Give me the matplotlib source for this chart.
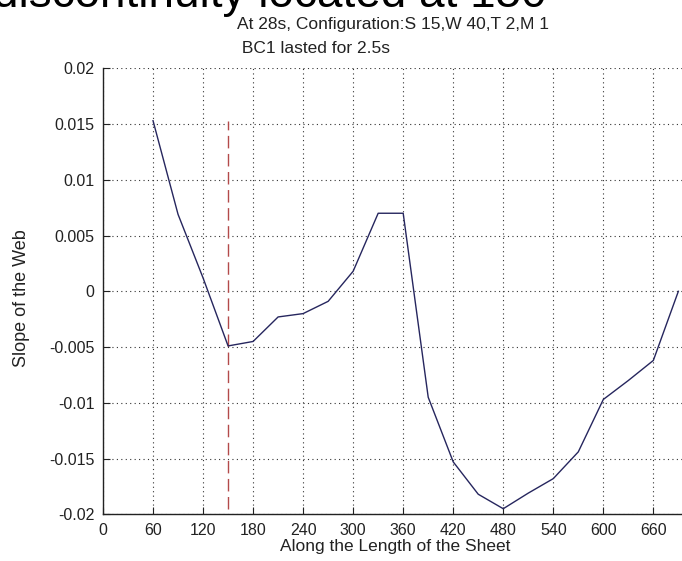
import matplotlib
matplotlib.use("Agg")
import matplotlib.pyplot as plt

plt.rcParams['font.family'] = ['Liberation Sans', 'DejaVu Sans']

# Slope profile along the sheet
position = [60, 90, 120, 150, 180, 210, 240, 270, 300, 330, 360, 390,
            420, 450, 480, 510, 540, 570, 600, 630, 660, 690]
slope = [0.0153, 0.0069, 0.0012, -0.0049, -0.0045, -0.0023, -0.0020,
         -0.0009, 0.0018, 0.0070, 0.0070, -0.0095, -0.0153, -0.0182,
         -0.0195, -0.0181, -0.0168, -0.0144, -0.0097, -0.0080, -0.0062, 0.0]
discontinuity_x = 150

x_ticks = [0, 60, 120, 180, 240, 300, 360, 420, 480, 540, 600, 660]
y_ticks = [-0.02, -0.015, -0.01, -0.005, 0, 0.005, 0.01, 0.015, 0.02]
y_ticklabels = ['-0.02', '-0.015', '-0.01', '-0.005', '0', '0.005', '0.01', '0.015', '0.02']

W, H = 682, 561
fig = plt.figure(figsize=(W / 100, H / 100), dpi=100)
left, right, top, bottom = 103, 686.7, 68.3, 514.3
ax = fig.add_axes([left / W, 1 - bottom / H, (right - left) / W, (bottom - top) / H])

ax.plot(position, slope, color='#26265e', linewidth=1.0, zorder=3)
ax.vlines(discontinuity_x, min(slope), max(slope), colors='#b34a4a',
          linestyles=(0, (9, 4)), linewidth=1.0, zorder=2)

ax.set_xlim(0, 700)
ax.set_ylim(-0.02, 0.02)
ax.set_xticks(x_ticks)
ax.set_yticks(y_ticks)
ax.set_yticklabels(y_ticklabels)
ax.tick_params(direction='in', length=5, width=0.8, labelsize=11.5, colors='#222222',
               pad=6)
ax.tick_params(axis='y', pad=6)

ax.grid(True, color='#333333', linestyle=(0, (1, 3)), linewidth=0.8)
for s in ('top', 'right'):
    ax.spines[s].set_visible(False)
for s in ('left', 'bottom'):
    ax.spines[s].set_color('#222222')
    ax.spines[s].set_linewidth(1.0)

ax.set_xlabel('Along the Length of the Sheet', fontsize=12.5, color='#222222', labelpad=1)
ax.set_ylabel('Slope of the Web', fontsize=13, color='#222222')
ax.yaxis.set_label_coords(-0.125, 0.485)

# Large caption running above the figure, mostly off the top edge
fig.text(547 / W, 1 - 7 / H, 'discontinuity located at 150', fontsize=33,
         ha='right', va='baseline', color='black')

# Two-line title (second line padded, so both start at the same x)
fig.text(237 / W, 1 - 28.5 / H, 'At 28s, Configuration:S 15,W 40,T 2,M 1',
         fontsize=12.5, ha='left', va='baseline', color='#222222',
         bbox=dict(facecolor='white', edgecolor='none', pad=1))
fig.text(237 / W, 1 - 53 / H, ' BC1 lasted for 2.5s',
         fontsize=12.5, ha='left', va='baseline', color='#222222')

fig.savefig('out.png', dpi=100)
